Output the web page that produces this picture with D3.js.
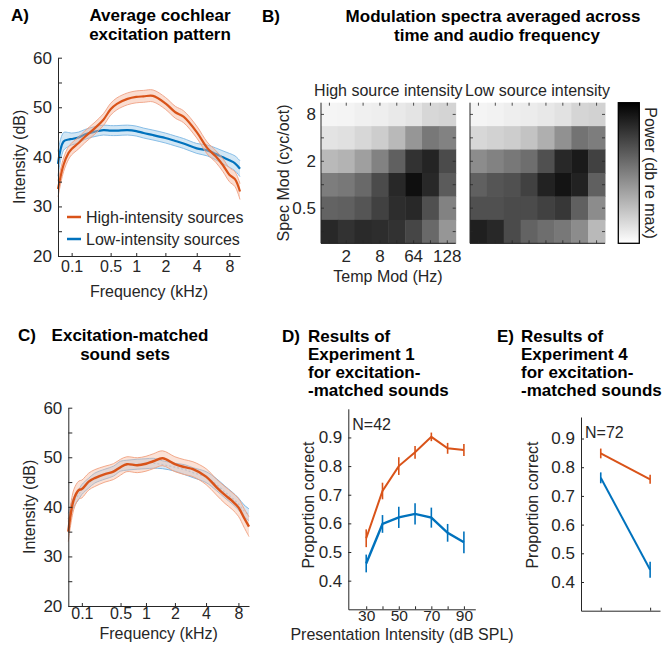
<!DOCTYPE html>
<html>
<head>
<meta charset="utf-8">
<script src="https://cdn.jsdelivr.net/npm/d3@7"></script>
<style>
body{margin:0;background:#fff}
svg{display:block;font-family:"Liberation Sans",Arial,Helvetica,sans-serif}
</style>
</head>
<body>
<svg id="fig" width="670" height="646"></svg>
<script>
// ---- data ----
const freqKHz = [0.02,0.05,0.08,0.1,0.15,0.2,0.3,0.4,0.5,0.6,0.8,1,1.2,1.5,2,2.5,3,4,5,6,7,8,9,10];
const freqTicks = [0.1,0.5,1,2,4,8];

// A) average cochlear excitation pattern (dB)
const highA = [33.5,38.4,40.8,41.6,42.8,44.0,45.8,47.5,49.6,50.7,51.7,52.1,52.2,52.3,50.8,49.0,48.1,45.0,41.8,40.1,38.3,36.4,35.5,33.0];
const highA_sem = [1.6,1.4,1.3,1.2,1.2,1.2,1.2,1.2,1.2,1.2,1.2,1.2,1.2,1.2,1.2,1.2,1.2,1.2,1.2,1.2,1.3,1.4,1.5,1.6];
const lowA = [38.6,43.1,43.5,43.6,43.9,44.5,45.1,45.4,45.3,45.3,45.4,45.2,44.8,44.4,43.8,43.2,42.7,41.7,41.3,40.6,39.9,39.3,38.7,37.6];
const lowA_sem = [2.5,1.8,1.4,1.2,1.1,1.0,1.0,1.0,1.0,1.0,1.0,1.0,1.0,1.0,1.0,1.0,1.0,1.0,1.1,1.2,1.3,1.4,1.5,1.6];

// C) excitation-matched sets (dB)
const highC = [35.0,41.5,43.4,43.6,45.1,45.8,46.6,47.1,48.0,48.6,48.4,48.7,49.2,49.8,48.6,48.0,47.6,46.1,44.0,42.4,41.2,39.9,37.8,36.0];
const highC_sem = [2.0,2.0,1.8,1.8,1.7,1.7,1.6,1.6,1.6,1.5,1.5,1.5,1.5,1.5,1.5,1.5,1.5,1.6,1.6,1.7,1.7,1.8,1.9,2.0];
const lowC = [37.5,41.0,42.5,43.5,44.8,45.8,46.6,47.2,48.2,48.4,48.6,48.7,48.8,48.5,48.0,47.5,46.9,46.0,44.5,43.0,41.8,40.6,39.2,38.4];
const lowC_sem = [1.2,1.0,1.0,1.0,1.0,1.0,1.0,1.0,1.0,1.0,1.0,1.0,1.0,0.8,0.8,1.0,1.0,1.1,1.2,1.2,1.2,1.2,1.2,1.2];

// B) modulation spectra, power in dB re max, rows = spectral mod (top->bottom), cols = temporal mod
const specMod = ["8","4","2","1","0.5","0.25"];
const specModTicks = ["8","2","0.5"];
const tempModTickLabels = ["","2","","8","","64","","128"];
const powerHigh = [
  [-19.2,-19.1,-18.8,-18.7,-18.3,-17.9,-16.9,-16.6],
  [-17.8,-17.6,-16.9,-16.1,-14.5,-11.8,-9.4,-10.2],
  [-14.5,-14.0,-12.5,-10.2,-7.5,-3.9,-2.8,-5.9],
  [-9.8,-9.4,-8.2,-5.9,-3.1,-1.2,-3.1,-7.1],
  [-7.8,-7.5,-6.7,-5.1,-3.5,-3.1,-6.3,-10.2],
  [-3.1,-3.9,-3.3,-3.5,-3.9,-5.5,-8.2,-11.8]
];
const powerLow = [
  [-19.1,-19.0,-18.7,-18.5,-18.2,-17.7,-16.7,-16.5],
  [-16.9,-16.5,-16.1,-15.3,-13.7,-11.4,-9.0,-9.8],
  [-11.0,-10.2,-9.4,-8.6,-6.3,-3.1,-2.0,-5.1],
  [-7.5,-6.7,-6.3,-5.1,-2.7,-1.6,-2.7,-7.5],
  [-6.3,-6.3,-5.9,-5.9,-5.1,-4.3,-7.5,-11.0],
  [-2.4,-3.1,-5.9,-7.8,-8.6,-9.4,-11.0,-14.5]
];

// D) Experiment 1
const levels = [30,40,50,60,70,80,90];
const levelTicks = [30,50,70,90];
const exp1High = [0.548,0.713,0.800,0.848,0.902,0.862,0.856];
const exp1High_sem = [0.031,0.029,0.031,0.022,0.015,0.019,0.021];
const exp1Low = [0.460,0.598,0.621,0.633,0.620,0.567,0.534];
const exp1Low_sem = [0.031,0.031,0.037,0.037,0.035,0.031,0.038];

// E) Experiment 4
const exp4Cond = [1,2];
const exp4High = [0.848,0.758];
const exp4High_sem = [0.017,0.016];
const exp4Low = [0.763,0.443];
const exp4Low_sem = [0.019,0.028];

const propTicks = [0.4,0.5,0.6,0.7,0.8,0.9];

// ---- drawing ----
const svg = d3.select("#fig");
const orange = "#D95319", blue = "#0072BD", ink = "#262626";
const FONT = "Liberation Sans, Arial, Helvetica, sans-serif";

function erb(f){ return 21.4*Math.log10(1+4.37*f); }

function styleAxis(g,size){
  g.attr("font-size",size||16).attr("font-family",FONT);
  g.select(".domain").attr("stroke",ink).attr("stroke-width",1);
  g.selectAll(".tick line").attr("stroke",ink);
  g.selectAll(".tick text").attr("fill",ink);
}

function txt(x,y,s,opt={}){
  const t = svg.append("text")
    .attr("x",x).attr("y",y)
    .attr("font-size",opt.size||16)
    .attr("font-weight",opt.bold?"bold":null)
    .attr("text-anchor",opt.anchor||"start")
    .attr("fill",opt.fill||ink)
    .text(s);
  if(opt.rotate){
    t.attr("transform",`rotate(${opt.rotate},${x},${y})`).attr("dominant-baseline","central");
  }
  return t;
}

function spectrumPanel(p){
  const x = d3.scaleLinear().domain([erb(0.02),erb(10)]).range([p.left,p.right]);
  const y = d3.scaleLinear().domain([20,60]).range([p.bottom,p.top]);
  const g = svg.append("g");

  p.series.forEach(s=>{
    const pts = freqKHz.map((f,i)=>({f:f,m:s.mean[i],e:s.sem[i]}));
    const curve = d3.curveCatmullRom;
    g.append("path").datum(pts)
      .attr("d",d3.area().x(d=>x(erb(d.f))).y0(d=>y(d.m-d.e)).y1(d=>y(d.m+d.e)).curve(curve))
      .attr("fill",s.band).attr("fill-opacity",s.bandOpacity);
    [-1,1].forEach(k=>{
      g.append("path").datum(pts)
        .attr("d",d3.line().x(d=>x(erb(d.f))).y(d=>y(d.m+k*d.e)).curve(curve))
        .attr("fill","none").attr("stroke",s.edge).attr("stroke-width",0.9);
    });
    g.append("path").datum(pts)
      .attr("d",d3.line().x(d=>x(erb(d.f))).y(d=>y(d.m)).curve(curve))
      .attr("fill","none").attr("stroke",s.color).attr("stroke-width",s.width)
      .attr("stroke-dasharray",s.dash||null);
  });

  const ax = g.append("g").attr("transform",`translate(0,${p.bottom})`)
    .call(d3.axisBottom(x).tickValues(freqTicks.map(erb))
      .tickFormat((d,i)=>freqTicks[i]).tickSizeInner(-3).tickSizeOuter(0).tickPadding(p.xpad));
  styleAxis(ax);
  const ay = g.append("g").attr("transform",`translate(${p.left},0)`)
    .call(d3.axisLeft(y).tickValues(d3.range(20,61,5))
      .tickFormat(d=>d%10===0?d:"").tickSizeInner(-4).tickSizeOuter(0).tickPadding(6));
  styleAxis(ay,17);

  txt((p.left+p.right)/2,p.xlabY,"Frequency (kHz)",{anchor:"middle"});
  txt(p.ylabX,(p.top+p.bottom)/2,"Intensity (dB)",{anchor:"middle",rotate:-90});
}

// titles
function title(x,y,lines,opt={}){
  lines.forEach((l,i)=>{
    txt(opt.xs?opt.xs[i]:x, y+i*(opt.lh||18.5), l, {bold:true,size:17,anchor:opt.anchor||"middle",fill:"#000"});
  });
}

// ---- Panel A ----
txt(11,21,"A)",{bold:true,size:17,fill:"#000"});
title(160,21,["Average cochlear","excitation pattern"]);
spectrumPanel({
  left:58,right:240,top:57.7,bottom:256,ylabX:20,xpad:5,xlabY:297,
  series:[
    {mean:lowA,sem:lowA_sem,color:blue,band:"#9ECAE9",bandOpacity:0.45,edge:"#7DB8E4",width:2.2},
    {mean:highA,sem:highA_sem,color:orange,band:"#F3B39A",bandOpacity:0.45,edge:"#EFA184",width:2.2}
  ]
});
// legend A
[["High-intensity sources",orange,217],["Low-intensity sources",blue,239]].forEach(r=>{
  svg.append("line").attr("x1",67).attr("x2",81).attr("y1",r[2]).attr("y2",r[2])
    .attr("stroke",r[1]).attr("stroke-width",2.5);
  txt(86,r[2]+6,r[0]);
});

// ---- Panel B ----
txt(262,22,"B)",{bold:true,size:17,fill:"#000"});
title(0,22,["Modulation spectra averaged across","time and audio frequency"],{xs:[493,497]});

const hmTop = 102.7, hmBottom = 243.3;
const yRow = d3.scaleBand().domain(specMod).range([hmTop,hmBottom]);
const gray = d3.scaleLinear().domain([-20,0]).range(["#ffffff","#000000"]).clamp(true);

function heatmap(x0,x1,data,sub,showAxes){
  const xCol = d3.scaleBand().domain(d3.range(8)).range([x0,x1]);
  const g = svg.append("g");
  data.forEach((row,r)=>{
    g.selectAll(null).data(row).enter().append("rect")
      .attr("x",(d,c)=>xCol(c)).attr("y",yRow(specMod[r]))
      .attr("width",xCol.bandwidth()+0.5).attr("height",yRow.bandwidth()+0.5)
      .attr("fill",d=>gray(d));
  });
  // inward ticks on all four sides
  const tk = g.append("g").attr("stroke",ink).attr("stroke-width",0.8);
  d3.range(8).forEach(c=>{
    const cx = xCol(c)+xCol.bandwidth()/2;
    tk.append("line").attr("x1",cx).attr("x2",cx).attr("y1",hmBottom).attr("y2",hmBottom-3);
    tk.append("line").attr("x1",cx).attr("x2",cx).attr("y1",hmTop).attr("y2",hmTop+3);
  });
  specMod.forEach(s=>{
    const cy = yRow(s)+yRow.bandwidth()/2;
    tk.append("line").attr("x1",x0).attr("x2",x0+3).attr("y1",cy).attr("y2",cy);
    tk.append("line").attr("x1",x1).attr("x2",x1-3).attr("y1",cy).attr("y2",cy);
  });
  g.append("line").attr("x1",x0).attr("x2",x0).attr("y1",hmTop).attr("y2",hmBottom).attr("stroke",ink);
  g.append("line").attr("x1",x0).attr("x2",x1).attr("y1",hmBottom).attr("y2",hmBottom).attr("stroke",ink);
  txt((x0+x1)/2,96,sub,{anchor:"middle"});
  if(showAxes){
    specModTicks.forEach(s=>{
      txt(x0-5,yRow(s)+yRow.bandwidth()/2+6,s,{anchor:"end",size:17});
    });
    tempModTickLabels.forEach((l,c)=>{
      if(l) txt(xCol(c)+xCol.bandwidth()/2,262,l,{anchor:"middle",size:17});
    });
  }
}
heatmap(321,455.7,powerHigh,"High source intensity",true);
heatmap(470,605,powerLow,"Low source intensity",false);
txt(388,282,"Temp Mod (Hz)",{anchor:"middle"});
txt(283,173,"Spec Mod (cyc/oct)",{anchor:"middle",rotate:-90});

// colorbar
const grad = svg.append("defs").append("linearGradient").attr("id","cbar")
  .attr("x1",0).attr("y1",1).attr("x2",0).attr("y2",0);
[-20,-10,0].forEach(v=>{
  grad.append("stop").attr("offset",(v+20)/20).attr("stop-color",gray(v));
});
svg.append("rect").attr("x",618.3).attr("y",hmTop).attr("width",21).attr("height",hmBottom-hmTop)
  .attr("fill","url(#cbar)").attr("stroke","#000").attr("stroke-width",1.3);
txt(650,173,"Power (db re max)",{anchor:"middle",rotate:90});

// ---- Panel C ----
txt(18,341,"C)",{bold:true,size:17,fill:"#000"});
title(0,341,["Excitation-matched","sound sets"],{xs:[130,125]});
spectrumPanel({
  left:68.3,right:249,top:407.7,bottom:606,ylabX:30,xpad:2,xlabY:639,
  series:[
    {mean:lowC,sem:lowC_sem,color:"#9CC5E6",band:"#BBD9F0",bandOpacity:0.6,edge:"#6FB0E0",width:1.3,dash:"2,2"},
    {mean:highC,sem:highC_sem,color:orange,band:"#F6BFA6",bandOpacity:0.45,edge:"#F0A07F",width:2.4}
  ]
});

// ---- Panels D & E ----
function propPanel(p){
  const x = d3.scaleLinear().domain(p.xdom).range([p.left,p.right]);
  const y = d3.scaleLinear().domain(p.ydom).range([p.bottom,p.top]);
  const g = svg.append("g");
  p.series.forEach(s=>{
    const pts = p.xs.map((v,i)=>({x:v,m:s.mean[i],e:s.sem[i]}));
    g.append("path").datum(pts)
      .attr("d",d3.line().x(d=>x(d.x)).y(d=>y(d.m)))
      .attr("fill","none").attr("stroke",s.color).attr("stroke-width",s.width);
    g.selectAll(null).data(pts).enter().append("line")
      .attr("x1",d=>x(d.x)).attr("x2",d=>x(d.x))
      .attr("y1",d=>y(d.m-d.e)).attr("y2",d=>y(d.m+d.e))
      .attr("stroke",s.color).attr("stroke-width",1.6);
  });
  const ax = g.append("g").attr("transform",`translate(0,${p.bottom})`)
    .call(d3.axisBottom(x).tickValues(p.xticks).tickFormat(p.xfmt)
      .tickSizeInner(-3).tickSizeOuter(0).tickPadding(1));
  styleAxis(ax,15.5);
  const ay = g.append("g").attr("transform",`translate(${p.left},0)`)
    .call(d3.axisLeft(y).tickValues(propTicks).tickFormat(d3.format(".1f"))
      .tickSizeInner(-3).tickSizeOuter(0).tickPadding(6));
  styleAxis(ay,17);
  txt(p.left+4,p.top+21,p.n,{});
  txt(p.ylabX,505,"Proportion correct",{anchor:"middle",rotate:-90});
}

txt(282,342,"D)",{bold:true,size:17,fill:"#000"});
title(308,342,["Results of","Experiment 1","for excitation-","-matched sounds"],{anchor:"start",lh:18});
propPanel({
  left:348.3,right:475.3,top:408.8,bottom:609.3,xdom:[19,97],ydom:[0.3,1.0],
  xs:levels,xticks:d3.range(30,91,10),xfmt:d=>levelTicks.includes(d)?d:"",n:"N=42",ylabX:308,
  series:[
    {mean:exp1High,sem:exp1High_sem,color:orange,width:2},
    {mean:exp1Low,sem:exp1Low_sem,color:blue,width:2.4}
  ]
});
txt(402,640,"Presentation Intensity (dB SPL)",{anchor:"middle"});

txt(497,342,"E)",{bold:true,size:17,fill:"#000"});
title(521,342,["Results of","Experiment 4","for excitation-","-matched sounds"],{anchor:"start",lh:18});
propPanel({
  left:581,right:660,top:417,bottom:610.7,xdom:[0.6,2.2],ydom:[0.3,0.975],
  xs:exp4Cond,xticks:exp4Cond,xfmt:()=>"",n:"N=72",ylabX:532,
  series:[
    {mean:exp4High,sem:exp4High_sem,color:orange,width:2},
    {mean:exp4Low,sem:exp4Low_sem,color:blue,width:2}
  ]
});
</script>
</body>
</html>
